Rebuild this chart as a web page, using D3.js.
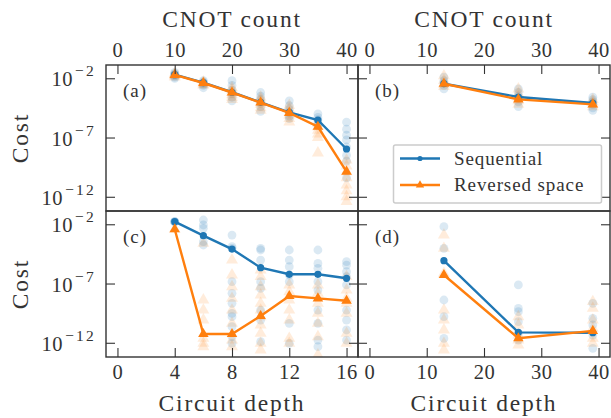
<!DOCTYPE html>
<html><head><meta charset="utf-8">
<script src="https://cdn.jsdelivr.net/npm/d3@7"></script>
<style>
body{margin:0;background:#fff}
svg{display:block}
text{font-family:"Liberation Serif",serif;fill:#333}
</style>
</head><body>
<svg id="chart" width="611" height="418"></svg>
<script>
// ---------- data (cost values given as log10 exponents) ----------
const cnotA = [10, 15, 20, 25, 30, 35, 40];
const seqMeanA = [-1.70, -2.37, -3.18, -4.03, -4.88, -5.52, -7.97];
const revMeanA = [-1.72, -2.40, -3.20, -4.05, -4.92, -6.09, -9.88];
const seqRunsA = [
  [-1.5, -1.6, -1.7, -1.8, -1.9, -2.0],
  [-2.2, -2.3, -2.4, -2.5, -2.6, -2.8],
  [-2.2, -2.6, -3.0, -3.3, -3.6, -3.9],
  [-3.2, -3.5, -3.8, -4.1, -4.4, -4.8],
  [-3.9, -4.3, -4.6, -4.9, -5.2, -5.4],
  [-5.0, -5.3, -5.5, -5.8, -6.0],
  [-5.7, -6.3, -6.8, -7.2, -7.8, -8.5, -9.0, -10.4]
];
const revRunsA = [
  [-1.6, -1.7, -1.8, -1.9],
  [-2.3, -2.4, -2.5, -2.6],
  [-2.8, -3.0, -3.2, -3.4, -3.6, -3.8],
  [-3.6, -3.8, -4.0, -4.2, -4.5, -4.7],
  [-4.3, -4.6, -4.9, -5.1, -5.4, -5.7],
  [-5.8, -6.1, -6.4, -6.7, -7.0, -8.3],
  [-8.9, -9.4, -9.9, -10.4, -11.0, -11.5, -12.0, -12.4]
];

const cnotB = [13, 26, 39];
const seqMeanB = [-2.46, -3.58, -4.09];
const revMeanB = [-2.46, -3.78, -4.20];
const seqRunsB = [
  [-1.9, -2.2, -2.4, -2.6, -2.9],
  [-2.9, -3.2, -3.5, -3.7, -4.0, -4.4],
  [-3.6, -3.8, -4.0, -4.2, -4.5, -4.7]
];
const revRunsB = [
  [-1.8, -2.2, -2.5, -2.7],
  [-2.9, -3.3, -3.6, -3.9, -4.2],
  [-3.8, -4.0, -4.2, -4.4]
];

const depthC = [4, 6, 8, 10, 12, 14, 16];
const seqMeanC = [-1.78, -2.96, -4.09, -5.66, -6.22, -6.22, -6.56];
const revMeanC = [-2.42, -11.26, -11.26, -9.74, -8.05, -8.25, -8.45];
const seqRunsC = [
  [-1.78, -1.78, -1.80],
  [-1.64, -2.06, -2.34, -3.47, -3.75],
  [-2.91, -3.89, -4.03, -6.84, -7.83, -8.67, -9.52, -9.80, -10.64, -11.49, -12.05],
  [-4.03, -4.17, -5.02, -6.84, -7.41, -9.24, -10.08, -11.91],
  [-4.17, -5.02, -5.58, -6.28, -6.84, -10.36, -12.05],
  [-4.17, -5.30, -5.72, -6.84, -7.55, -9.24, -10.36, -11.77, -12.33],
  [-5.16, -5.44, -6.00, -6.42, -7.12, -9.24, -10.08, -10.92, -11.77]
];
const revRunsC = [
  [-2.42],
  [-3.61, -8.39, -9.24, -10.08, -11.63, -12.05, -12.33],
  [-5.02, -6.28, -7.27, -8.25, -9.24, -10.36, -11.77, -12.33],
  [-5.86, -6.42, -7.27, -7.97, -8.67, -9.24, -9.80, -10.50, -11.20, -12.05, -12.61],
  [-7.12, -7.69, -8.39, -9.24, -10.08, -11.63, -12.05],
  [-7.12, -7.83, -8.67, -9.52, -10.36, -11.49, -13.03],
  [-6.42, -7.55, -8.25, -8.67, -9.52, -11.20, -12.05]
];

const cnotD = [13, 26, 39];
const seqMeanD = [-5.07, -11.12, -11.15];
const revMeanD = [-6.28, -11.62, -11.00];
const seqRunsD = [
  [-2.20, -4.03, -8.39, -9.80, -11.63],
  [-7.12, -9.10, -9.38, -10.22, -11.20, -11.77],
  [-8.67, -9.94, -10.50, -11.35, -12.47]
];
const revRunsD = [
  [-2.91, -4.03, -6.14, -9.24, -10.08, -10.92, -12.05, -12.61],
  [-9.80, -10.50, -11.35, -11.77, -12.19],
  [-8.53, -9.10, -10.08, -10.78, -11.63, -12.05]
];

const cnotTicks = [0, 10, 20, 30, 40];
const depthTicks = [0, 4, 8, 12, 16];
const costTicks = [-2, -7, -12];
const seriesNames = ["Sequential", "Reversed space"];
const panelLabels = ["(a)", "(b)", "(c)", "(d)"];

// ---------- layout ----------
const BLUE = "#1f77b4", ORANGE = "#ff7f0e", INK = "#333";
const FONT = "Liberation Serif";
const colL = [106, 358], colR = [358, 610];
const rowT = [65, 211], rowB = [211, 357];
const svg = d3.select("#chart");

const yDomain = [Math.pow(10, -13.2), Math.pow(10, -0.88)];

const panels = [
  {label: panelLabels[0], col: colL, row: rowT, xs: cnotA, xdom: [-2, 42], ticks: cnotTicks, top: true, left: true,
   seqMean: seqMeanA, revMean: revMeanA, seqRuns: seqRunsA, revRuns: revRunsA},
  {label: panelLabels[1], col: colR, row: rowT, xs: cnotB, xdom: [-2, 42], ticks: cnotTicks, top: true, left: false,
   seqMean: seqMeanB, revMean: revMeanB, seqRuns: seqRunsB, revRuns: revRunsB},
  {label: panelLabels[2], col: colL, row: rowB, xs: depthC, xdom: [-0.8, 16.8], ticks: depthTicks, top: false, left: true,
   seqMean: seqMeanC, revMean: revMeanC, seqRuns: seqRunsC, revRuns: revRunsC},
  {label: panelLabels[3], col: colR, row: rowB, xs: cnotD, xdom: [-2, 42], ticks: cnotTicks, top: false, left: false,
   seqMean: seqMeanD, revMean: revMeanD, seqRuns: seqRunsD, revRuns: revRunsD}
];

const triSym = d3.symbol().type(d3.symbolTriangle);
const v = e => Math.pow(10, e);
const fs = 20.5;

panels.forEach((p, i) => {
  const x = d3.scaleLinear().domain(p.xdom).range(p.col);
  const y = d3.scaleLog().domain(yDomain).range([p.row[1], p.row[0]]);
  const g = svg.append("g");
  const clipId = "clip" + i;
  svg.append("clipPath").attr("id", clipId).append("rect")
    .attr("x", p.col[0]).attr("y", p.row[0])
    .attr("width", p.col[1] - p.col[0]).attr("height", p.row[1] - p.row[0]);
  const plot = g.append("g").attr("clip-path", `url(#${clipId})`);

  // individual runs (faint)
  const seqPts = [], revPts = [];
  p.xs.forEach((xv, k) => {
    p.seqRuns[k].forEach(e => seqPts.push([xv, e]));
    p.revRuns[k].forEach(e => revPts.push([xv, e]));
  });
  plot.selectAll(".sr").data(seqPts).join("circle")
    .attr("cx", d => x(d[0])).attr("cy", d => y(v(d[1]))).attr("r", 4.4)
    .attr("fill", BLUE).attr("fill-opacity", 0.16);
  plot.selectAll(".rr").data(revPts).join("path")
    .attr("d", triSym.size(62)())
    .attr("transform", d => `translate(${x(d[0])},${y(v(d[1]))})`)
    .attr("fill", ORANGE).attr("fill-opacity", 0.15);

  // mean lines
  const line = d3.line().x(d => x(d[0])).y(d => y(v(d[1])));
  const seqLine = p.xs.map((xv, k) => [xv, p.seqMean[k]]);
  const revLine = p.xs.map((xv, k) => [xv, p.revMean[k]]);
  plot.append("path").datum(seqLine).attr("d", line)
    .attr("fill", "none").attr("stroke", BLUE).attr("stroke-width", 2.4);
  plot.selectAll(".sm").data(seqLine).join("circle")
    .attr("cx", d => x(d[0])).attr("cy", d => y(v(d[1]))).attr("r", 3.6).attr("fill", BLUE);
  plot.append("path").datum(revLine).attr("d", line)
    .attr("fill", "none").attr("stroke", ORANGE).attr("stroke-width", 2.4);
  plot.selectAll(".rm").data(revLine).join("path")
    .attr("d", triSym.size(48)())
    .attr("transform", d => `translate(${x(d[0])},${y(v(d[1]))})`)
    .attr("fill", ORANGE);

  // x axis (ticks inward)
  let ax;
  if (p.top) {
    ax = g.append("g").attr("transform", `translate(0,${p.row[0]})`)
      .call(d3.axisTop(x).tickValues(p.ticks).tickSizeInner(-9).tickSizeOuter(0).tickPadding(8.5));
  } else {
    ax = g.append("g").attr("transform", `translate(0,${p.row[1]})`)
      .call(d3.axisBottom(x).tickValues(p.ticks).tickSizeInner(-9).tickSizeOuter(0).tickPadding(7.4));
  }
  ax.select(".domain").remove();
  ax.selectAll("text").attr("font-size", fs).attr("font-family", FONT).attr("fill", INK).attr("letter-spacing", 0.6);
  ax.selectAll("line").attr("stroke", INK).attr("stroke-width", 1.1);

  // y axis ticks both sides (inward)
  const yTickVals = costTicks.map(v);
  const axL = g.append("g").attr("transform", `translate(${p.col[0]},0)`)
    .call(d3.axisLeft(y).tickValues(yTickVals).tickSizeInner(-9).tickSizeOuter(0).tickFormat(""));
  const axR = g.append("g").attr("transform", `translate(${p.col[1]},0)`)
    .call(d3.axisRight(y).tickValues(yTickVals).tickSizeInner(-9).tickSizeOuter(0).tickFormat(""));
  [axL, axR].forEach(a => {
    a.select(".domain").remove();
    a.selectAll("line").attr("stroke", INK).attr("stroke-width", 1.1);
  });
  if (p.left) {
    costTicks.forEach(e => {
      const t = g.append("text").attr("x", 96).attr("y", y(v(e)) + 8)
        .attr("text-anchor", "end").attr("font-size", fs);
      t.append("tspan").attr("letter-spacing", 0.6).text("10");
      t.append("tspan").attr("dx", 2).attr("dy", -10).attr("font-size", 15.5)
        .attr("letter-spacing", 2.2).text("\u2212" + Math.abs(e));
    });
  }

  // frame
  g.append("rect").attr("x", p.col[0]).attr("y", p.row[0])
    .attr("width", p.col[1] - p.col[0]).attr("height", p.row[1] - p.row[0])
    .attr("fill", "none").attr("stroke", INK).attr("stroke-width", 1.4);

  // panel label
  g.append("text").attr("x", p.col[0] + 17).attr("y", p.row[0] + 32)
    .attr("font-size", 19).attr("letter-spacing", 1).text(p.label);
});

// axis titles
const titleAttrs = s => s.attr("font-size", 23.5).attr("letter-spacing", 1.8).attr("text-anchor", "middle");
svg.append("text").attr("x", 232).attr("y", 27).call(titleAttrs).text("CNOT count");
svg.append("text").attr("x", 484).attr("y", 27).call(titleAttrs).text("CNOT count");
svg.append("text").attr("x", 232).attr("y", 411).call(titleAttrs).text("Circuit depth");
svg.append("text").attr("x", 484).attr("y", 411).call(titleAttrs).text("Circuit depth");
[138, 284].forEach(cy => {
  svg.append("text").attr("transform", `translate(28,${cy}) rotate(-90)`).call(titleAttrs).text("Cost");
});

// legend
const lg = svg.append("g");
lg.append("rect").attr("x", 393.5).attr("y", 145).attr("width", 208).attr("height", 58)
  .attr("rx", 2).attr("fill", "#fff").attr("fill-opacity", 0.85)
  .attr("stroke", "#cccccc").attr("stroke-width", 1.5);
const legRows = [{name: seriesNames[0], color: BLUE, tri: false, y: 158.5},
                 {name: seriesNames[1], color: ORANGE, tri: true, y: 185}];
legRows.forEach(r => {
  lg.append("line").attr("x1", 400).attr("x2", 440).attr("y1", r.y).attr("y2", r.y)
    .attr("stroke", r.color).attr("stroke-width", 2.4);
  if (r.tri) {
    lg.append("path").attr("d", d3.symbol().type(d3.symbolTriangle).size(30)())
      .attr("transform", `translate(420,${r.y})`).attr("fill", r.color);
  } else {
    lg.append("circle").attr("cx", 420).attr("cy", r.y).attr("r", 2.6).attr("fill", r.color);
  }
  lg.append("text").attr("x", 454).attr("y", r.y + 6).attr("font-size", 19)
    .attr("letter-spacing", 0.9).text(r.name);
});
</script>
</body></html>
